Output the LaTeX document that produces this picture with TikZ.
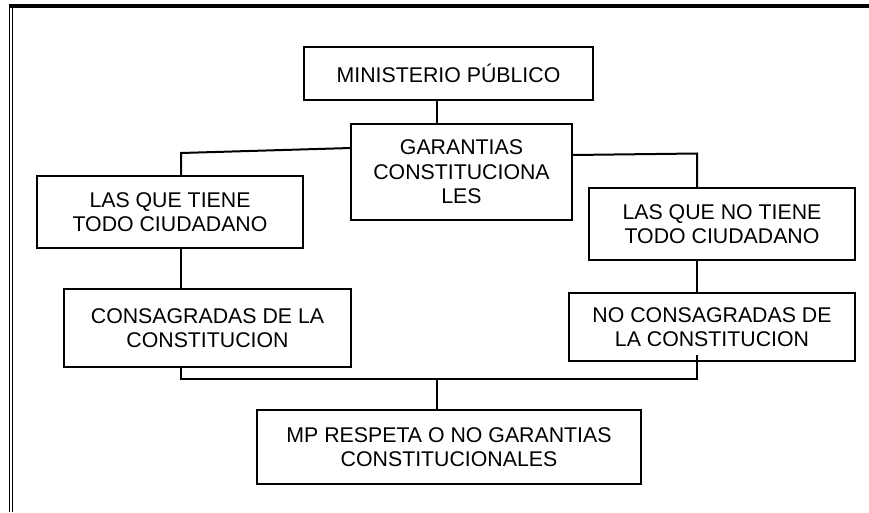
\documentclass[tikz,border=0pt]{standalone}
\usepackage{fontspec}
\setmainfont{Liberation Sans}
\begin{document}
\begin{tikzpicture}[x=1pt,y=1pt,
  box/.style={draw=black,line width=2pt,rectangle,inner sep=0pt,outer sep=0pt,
    align=center,font=\fontsize{21.3}{24.5}\selectfont},
  conn/.style={draw=black,line width=2pt}]
\useasboundingbox (0,0) rectangle (869,-512);
% frame
\draw[line width=4pt] (9,-6) -- (869,-6);
\draw[line width=1.2pt] (9.6,-4) -- (9.6,-512);
\draw[line width=1.2pt] (12.8,-8) -- (12.8,-512);
% boxes
\node[box,minimum width=289pt,minimum height=53pt] (mp) at (448.5,-73.5) {MINISTERIO PÚBLICO};
\node[box,minimum width=221pt,minimum height=96pt] (gar) at (461.5,-172) {GARANTIAS\\CONSTITUCIONA\\LES};
\node[box,minimum width=266pt,minimum height=72pt] (lt) at (170,-212) {LAS QUE TIENE\\TODO CIUDADANO};
\node[box,minimum width=287pt,minimum height=78pt] (cons) at (207.5,-328) {CONSAGRADAS DE LA\\CONSTITUCION};
\node[box,minimum width=266pt,minimum height=72pt] (lnt) at (722,-224) {LAS QUE NO TIENE\\TODO CIUDADANO};
\node[box,minimum width=286pt,minimum height=68pt] (ncons) at (712,-327) {NO CONSAGRADAS DE\\LA CONSTITUCION};
\node[box,minimum width=384pt,minimum height=74pt] (mpr) at (449,-447) {MP RESPETA O NO GARANTIAS\\CONSTITUCIONALES};
% helper coordinates
\coordinate (cx) at (437,0);
\coordinate (lx) at (181,0);
\coordinate (rx) at (697,0);
\coordinate (lb) at (181,-153);
\coordinate (rb) at (697,-153.5);
\coordinate (bl) at (181,-379);
\coordinate (br) at (697,-379);
\coordinate (bm) at (437,-379);
% connectors
\draw[conn] (mp.south -| cx) -- (gar.north -| cx);
\draw[conn] ([yshift=-24pt]gar.north west) -- (lb) -- (lt.north -| lx);
\draw[conn] ([yshift=-31pt]gar.north east) -- (rb) -- (lnt.north -| rx);
\draw[conn] (lt.south -| lx) -- (cons.north -| lx);
\draw[conn] (lnt.south -| rx) -- (ncons.north -| rx);
\draw[conn] (cons.south -| lx) -- (bl) -- (br) -- ([yshift=6pt]ncons.south -| rx);
\draw[conn] (bm) -- (mpr.north -| cx);
\end{tikzpicture}
\end{document}
